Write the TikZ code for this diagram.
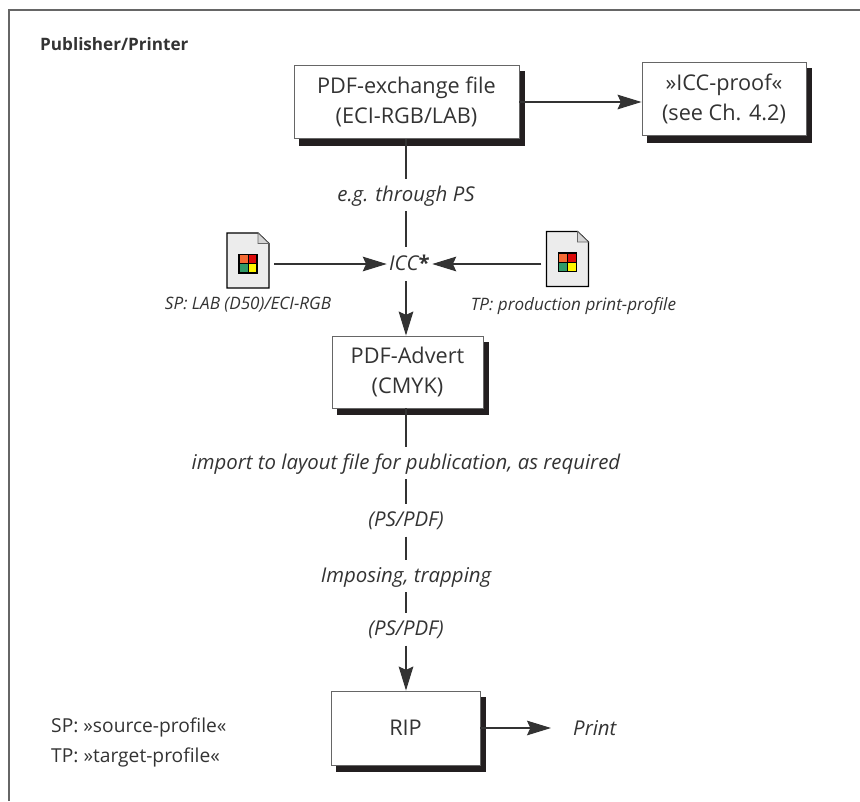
\documentclass[tikz,border=0pt]{standalone}
\usepackage{fontspec}
\setmainfont{Open Sans}
\usetikzlibrary{arrows.meta}
\definecolor{inkdark}{HTML}{333333}
\definecolor{framegray}{HTML}{666666}
\definecolor{shadowblack}{HTML}{231F20}
\definecolor{pagegray}{HTML}{ECECEC}
\definecolor{foldgray}{HTML}{D4D4D4}
\definecolor{chiporange}{HTML}{F56A33}
\definecolor{chipred}{HTML}{DC0A0A}
\definecolor{chipgreen}{HTML}{2F9A68}
\definecolor{chipyellow}{HTML}{FFF500}

\begin{document}
\begin{tikzpicture}[x=.03cm, y=-.03cm]
\tikzstyle{stepbox}=[draw=framegray, fill=white, line width=.8pt, inner sep=0, align=center,
  text=inkdark, font=\fontsize{18.5}{25}\selectfont,
  preaction={fill=shadowblack, draw=shadowblack, transform canvas={shift={(.17cm,-.19cm)}}}]
\tikzstyle{lbl}=[inner sep=0, minimum height=.96cm, text=inkdark, text height=.46cm, text depth=.1cm,
  font=\fontsize{17.4}{19}\selectfont\itshape]
\tikzstyle{iconcap}=[inner sep=0, text=inkdark, font=\fontsize{14.6}{16}\selectfont\itshape]
\tikzstyle{legend}=[inner sep=0, anchor=west, text=inkdark, font=\fontsize{16.4}{18}\selectfont]
\tikzstyle{flowline}=[draw=inkdark, line width=1pt]
\tikzstyle{flowarrow}=[flowline, -{Stealth[length=.72cm,width=.44cm,inset=.1cm]}]
\tikzstyle{iconspot}=[inner sep=0, minimum width=1.56cm, minimum height=1.65cm]
\useasboundingbox (0,0) rectangle (860,801);

% frame, open on two sides
\draw[framegray, line width=1.6pt] (9,801) -- (9,10) -- (860,10);

\node[anchor=west, inner sep=0, text=inkdark, font=\fontsize{14.6}{16}\selectfont\bfseries]
  (title) at (40,44) {Publisher/Printer};

% boxes
\node[stepbox, minimum width=6.75cm, minimum height=2.2cm] (exfile) at (406.5,102)
  {PDF-exchange file\\(ECI-RGB/LAB)};
\node[stepbox, minimum width=4.92cm, minimum height=2.2cm] (proof) at (724,99)
  {»ICC-proof«\\(see Ch. 4.2)};
\node[stepbox, minimum width=4.53cm, minimum height=2.16cm] (advert) at (407.5,372)
  {PDF-Advert\\(CMYK)};
\node[stepbox, minimum width=4.47cm, minimum height=2.22cm] (rip) at (405.5,728) {RIP};

% labels on the main line
\node[lbl] (through) at (406,195) {e.g. through PS};
\node[lbl, minimum width=1.35cm, minimum height=1.02cm] (icc) at (409.5,264)
  {ICC{\upshape\bfseries *}};
\node[lbl] (import) at (406,463) {import to layout file for publication, as required};
\node[lbl] (psone) at (406,520.5) {(PS/PDF)};
\node[lbl] (imposing) at (406,576) {Imposing, trapping};
\node[lbl] (pstwo) at (406,629.5) {(PS/PDF)};

\node[iconcap] (spcap) at (248,305) {SP: LAB (D50)/ECI-RGB};
\node[iconcap] (tpcap) at (573.5,306) {TP: production print-profile};
\node[legend] (splegend) at (51,727) {SP: »source-profile«};
\node[legend] (tplegend) at (51,757) {TP: »target-profile«};
\node[lbl, anchor=west, minimum height=0pt] (print) at (573,729) {Print};

% first profile icon
\begin{scope}[shift={(248,260.5)}]
\node[iconspot] (spicon) at (0,0) {};
\draw[pagegray, fill=pagegray] (-21,-27.5) -- (10,-27.5) -- (21,-17) -- (21,27.5) -- (-21,27.5) -- cycle;
\draw[black, line width=1pt] (-21,-27.5) -- (10,-27.5) -- (21,-17) -- (21,27.5) -- (-21,27.5) -- cycle;
\draw[framegray, fill=foldgray, line width=.5pt] (10,-27.5) -- (10,-17) -- (21,-17) -- cycle;
\fill[black] (-10,-7) rectangle (9.5,13);
\fill[chiporange] (-8.5,-5.5) rectangle (-.5,2.5);
\fill[chipred] (.5,-5.5) rectangle (8,2.5);
\fill[chipgreen] (-8.5,3.5) rectangle (-.5,11.5);
\fill[chipyellow] (.5,3.5) rectangle (8,11.5);
\end{scope}

% second profile icon
\begin{scope}[shift={(567.5,259)}]
\node[iconspot] (tpicon) at (0,0) {};
\draw[pagegray, fill=pagegray] (-21,-27.5) -- (10,-27.5) -- (21,-17) -- (21,27.5) -- (-21,27.5) -- cycle;
\draw[black, line width=1pt] (-21,-27.5) -- (10,-27.5) -- (21,-17) -- (21,27.5) -- (-21,27.5) -- cycle;
\draw[framegray, fill=foldgray, line width=.5pt] (10,-27.5) -- (10,-17) -- (21,-17) -- cycle;
\fill[black] (-10,-7) rectangle (9.5,13);
\fill[chiporange] (-8.5,-5.5) rectangle (-.5,2.5);
\fill[chipred] (.5,-5.5) rectangle (8,2.5);
\fill[chipgreen] (-8.5,3.5) rectangle (-.5,11.5);
\fill[chipyellow] (.5,3.5) rectangle (8,11.5);
\end{scope}

% main line
\draw[flowline] (exfile.south -| through) -- (through);
\draw[flowline] (through) -- (through |- icc.north);
\draw[flowarrow] (through |- icc.south) -- (through |- advert.north);
\draw[flowline] (advert.south -| import) -- (import);
\draw[flowline] (import) -- (psone);
\draw[flowline] (psone) -- (imposing);
\draw[flowline] (imposing) -- (pstwo);
\draw[flowarrow] (pstwo) -- (pstwo |- rip.north);

% side arrows
\draw[flowarrow] (exfile.east) -- (exfile.east -| proof.west);
\draw[flowarrow] (spicon.east |- icc.west) -- (icc.west);
\draw[flowarrow] (tpicon.west |- icc.east) -- (icc.east);
\draw[flowarrow, shorten >=.66cm] (rip.east) -- (print.west |- rip.east);
\end{tikzpicture}
\end{document}
